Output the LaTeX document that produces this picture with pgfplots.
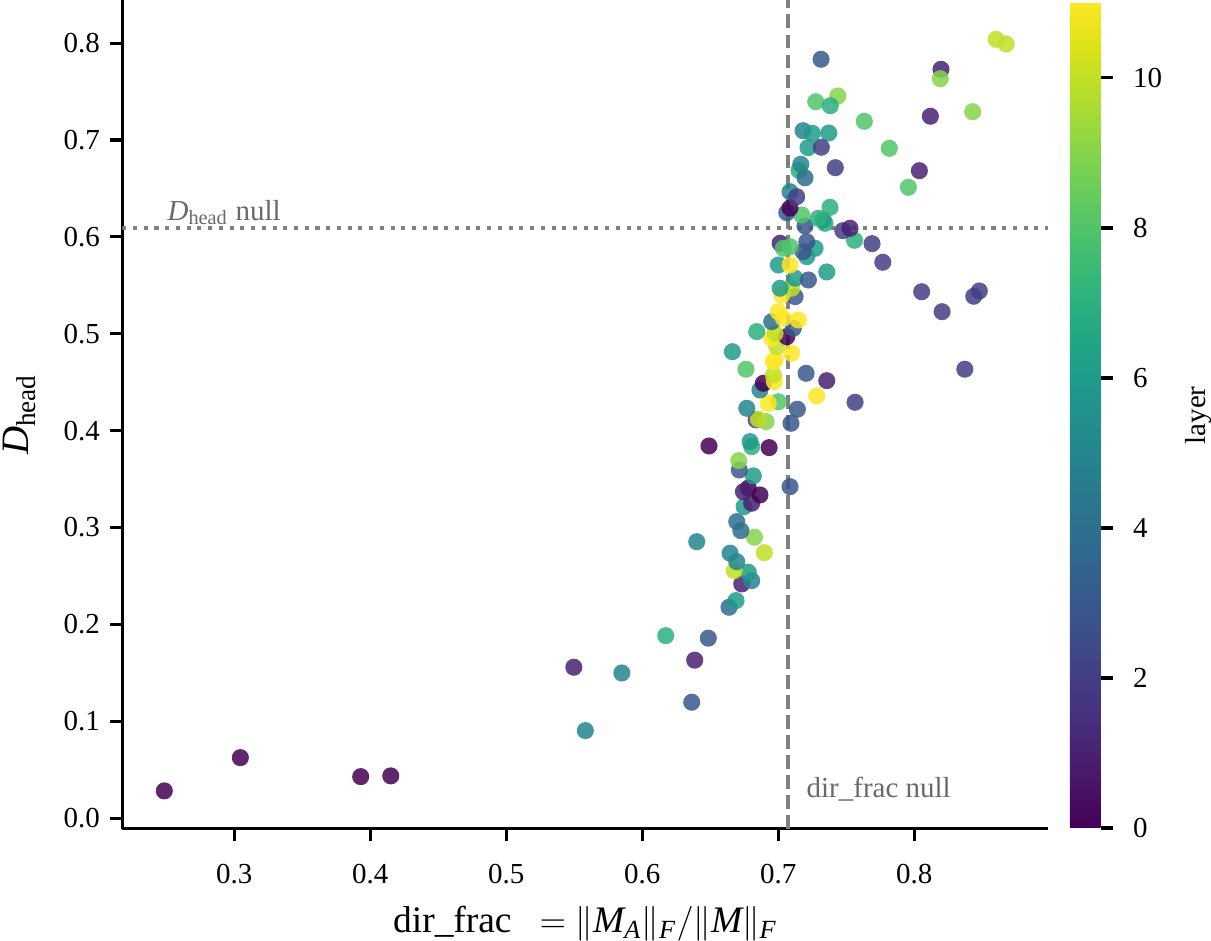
\documentclass[border=0pt]{standalone}
\usepackage{fontspec}
\setmainfont{Liberation Serif}
\usepackage{pgfplots}
\usepackage{pgfplotstable}
\pgfplotsset{compat=1.18}
\definecolor{dimgray}{HTML}{696969}

% one row per attention head: direction fraction, D_head, layer index
\pgfplotstableread{
x y layer
0.2485 0.0282 0
0.3044 0.0625 0
0.3929 0.0429 0
0.4150 0.0437 0
0.5496 0.1558 1
0.5581 0.0904 5
0.5849 0.1499 5
0.6172 0.1884 7
0.6485 0.1858 3
0.6385 0.1631 1
0.6363 0.1197 3
0.6400 0.2854 5
0.6637 0.2177 4
0.6689 0.2246 6
0.6731 0.2418 1
0.6804 0.2452 5
0.6779 0.2539 6
0.6676 0.2555 10
0.6694 0.2648 5
0.6645 0.2735 5
0.6897 0.2741 10
0.6824 0.2900 9
0.6724 0.2968 4
0.6694 0.3061 4
0.6748 0.3216 6
0.6804 0.3251 1
0.6865 0.3336 0
0.6779 0.3406 0
0.6743 0.3370 1
0.7086 0.3422 3
0.6816 0.3533 6
0.6713 0.3594 3
0.6709 0.3690 9
0.6932 0.3825 0
0.6804 0.3835 7
0.6792 0.3887 6
0.6490 0.3842 0
0.6836 0.4111 2
0.6910 0.4093 9
0.6853 0.4118 10
0.7093 0.4076 3
0.7140 0.4221 3
0.6768 0.4231 5
0.7000 0.4299 8
0.6926 0.4283 11
0.7564 0.4293 2
0.7282 0.4358 11
0.6865 0.4420 5
0.6890 0.4489 0
0.7356 0.4516 1
0.7204 0.4592 3
0.6971 0.4506 11
0.6963 0.4575 10
0.6963 0.4712 11
0.6762 0.4634 8
0.7098 0.4799 11
0.6662 0.4815 6
0.6976 0.4730 11
0.6988 0.4867 10
0.6951 0.4954 11
0.7062 0.4970 0
0.6976 0.5005 10
0.6841 0.5022 7
0.7110 0.5057 3
0.7147 0.5142 11
0.6951 0.5125 4
0.7037 0.5160 11
0.7000 0.5228 11
0.7123 0.5383 3
0.7025 0.5400 11
0.7098 0.5470 10
0.7013 0.5470 6
0.7123 0.5573 6
0.7221 0.5555 3
0.7356 0.5638 6
0.7000 0.5710 6
0.7086 0.5710 11
0.7270 0.5882 6
0.7209 0.5796 6
0.7182 0.5847 3
0.7209 0.5950 3
0.7013 0.5934 1
0.7086 0.5899 8
0.7037 0.5882 8
0.7560 0.5965 7
0.7474 0.6064 2
0.7527 0.6089 1
0.7196 0.6113 3
0.7343 0.6140 7
0.7330 0.6174 6
0.7294 0.6192 7
0.7380 0.6305 7
0.7172 0.6226 8
0.7062 0.6250 3
0.7086 0.6298 0
0.7086 0.6466 5
0.7135 0.6415 2
0.7152 0.6687 7
0.7196 0.6610 4
0.7419 0.6714 2
0.7314 0.7833 3
0.8601 0.8039 10
0.8675 0.7991 10
0.8196 0.7730 1
0.8191 0.7633 9
0.7437 0.7454 9
0.7275 0.7395 8
0.7382 0.7354 7
0.8118 0.7245 1
0.8429 0.7292 9
0.7632 0.7193 8
0.7182 0.7096 5
0.7250 0.7069 6
0.7371 0.7072 6
0.7816 0.6914 8
0.7218 0.6921 6
0.7316 0.6925 2
0.8037 0.6683 1
0.7165 0.6749 5
0.7956 0.6512 8
0.7689 0.5930 2
0.7768 0.5738 2
0.8054 0.5434 2
0.8204 0.5228 2
0.8478 0.5442 2
0.8437 0.5387 2
0.8371 0.4634 2
}\heads

\begin{document}
\begin{tikzpicture}[font=\fontsize{10}{12}\selectfont]
\begin{axis}[
  name=main,
  scale only axis,
  width=319.2pt, height=285.8pt,
  xmin=0.2176, xmax=0.8983,
  ymin=-0.011, ymax=0.8445,
  axis x line*=bottom, axis y line*=left,
  axis line style={line width=1.1pt, -},
  every tick/.style={black, line width=1.1pt},
  tick align=outside,
  major tick length=4.2pt,
  xtick={0.3,0.4,0.5,0.6,0.7,0.8},
  xticklabels={0.3,0.4,0.5,0.6,0.7,0.8},
  ytick={0,0.1,0.2,0.3,0.4,0.5,0.6,0.7,0.8},
  yticklabels={0.0,0.1,0.2,0.3,0.4,0.5,0.6,0.7,0.8},
  tick label style={font=\fontsize{10}{12}\selectfont},
  xticklabel style={yshift=-4.3pt},
  every axis x label/.style={at={(axis description cs:0.5,-0.1255)}, anchor=base,
    font=\fontsize{12.9}{15}\selectfont},
  every axis y label/.style={at={(axis description cs:-0.1008,0.5)}, anchor=base, rotate=90,
    font=\fontsize{13.4}{16}\selectfont},
  xlabel={dir\_frac\hspace{0.75em}$=\|\mathit{M}_{\mathit{A}}\|_{\mathit{F}}/\|\mathit{M}\|_{\mathit{F}}$},
  ylabel={$\mathit{D}_{\mathrm{head}}$},
  colormap/viridis,
  point meta min=0, point meta max=11,
  colorbar,
  colorbar style={
    at={(parent axis.north east)}, anchor=north west,
    xshift=-1pt, yshift=-1pt,
    scale only axis,
    width=10.6pt, height=284.5pt,
    ytick={0,2,4,6,8,10},
    yticklabels={0,2,4,6,8,10},
    ytick pos=right, yticklabel pos=right,
    tick align=outside,
    major tick length=4.2pt,
    every tick/.style={black, line width=1.1pt},
    axis line style={draw=none},
    tick label style={font=\fontsize{10}{12}\selectfont},
    yticklabel style={xshift=3.5pt},
    ylabel={layer},
    every axis y label/.style={at={(axis description cs:4.42,0.5)}, anchor=base, rotate=90,
      font=\fontsize{10}{12}\selectfont},
  },
]
% heads, coloured by layer
\addplot[scatter, only marks, mark=*, mark size=2.95pt,
  point meta=explicit,
  scatter/use mapped color={draw opacity=0, fill=mapped color, fill opacity=0.85}]
  table[x=x, y=y, meta=layer]{\heads};

% null reference levels
\addplot[forget plot, gray, line width=1.3pt, dash pattern=on 4.8pt off 2.1pt]
  coordinates {(0.7071,-0.011) (0.7071,0.8445)};
\addplot[forget plot, gray, line width=1.4pt, dash pattern=on 1.4pt off 2.3pt]
  coordinates {(0.2176,0.609) (0.8983,0.609)};

\node[anchor=base west, text=dimgray, inner sep=0pt] at (axis cs:0.2505,0.6174)
  {$\mathit{D}_{\mathrm{head}}$ null};
\node[anchor=base west, text=dimgray, inner sep=0pt] at (axis cs:0.7204,0.021)
  {dir\_frac null};
\end{axis}
\path (main.south west) ++(-42.17pt,-38.62pt) coordinate (bl);
\path (main.north east) ++(56.2pt,0pt) coordinate (tr);
\pgfresetboundingbox
\useasboundingbox (bl) rectangle (tr);
\end{tikzpicture}
\end{document}
